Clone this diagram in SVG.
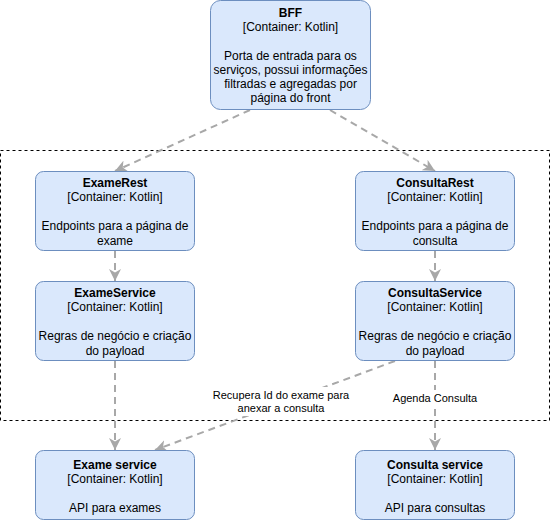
<svg xmlns="http://www.w3.org/2000/svg" width="551" height="521" viewBox="0 0 551 521">
  <style>
    .box { fill: #dae8fc; stroke: #6c8ebf; stroke-width: 1; }
    .t { font-family: "Liberation Sans", Arial, Helvetica, sans-serif; font-size: 12px; fill: #000; text-anchor: middle; }
    .b { font-weight: bold; }
    .lbl { font-family: "Liberation Sans", Arial, Helvetica, sans-serif; font-size: 11px; fill: #000; text-anchor: middle; }
    .edge { fill: none; stroke: #a8a8a8; stroke-width: 2; stroke-dasharray: 7 5; marker-end: url(#arrow); }
    .bound { fill: none; stroke: #000; stroke-width: 1; stroke-dasharray: 3 3; }
  </style>
  <defs>
    <marker id="arrow" markerUnits="userSpaceOnUse" viewBox="0 0 12 12" markerWidth="12" markerHeight="12" refX="12" refY="6" orient="auto">
      <path d="M0,0 L12,6 L0,12 L3.5,6 z" fill="#a8a8a8"/>
    </marker>
  </defs>
  <rect width="551" height="521" fill="#fff"/>

  <!-- system boundary -->
  <rect class="bound" x="0.5" y="150.5" width="549" height="270"/>

  <!-- connectors -->
  <g id="connectors">
    <path class="edge" d="M250,110 L115,171"/>
    <path class="edge" d="M330,110 L435,171"/>
    <path class="edge" d="M115,251 L115,281"/>
    <path class="edge" d="M435,251 L435,281"/>
    <path class="edge" d="M115,361 L115,450"/>
    <path class="edge" d="M435,361 L435,450"/>
    <path class="edge" d="M395,361 L155,450"/>
    <rect x="392" y="390" width="86" height="14" fill="#fff"/>
    <text class="lbl" x="435" y="401.5">Agenda Consulta</text>
    <rect x="212" y="387" width="138" height="29" fill="#fff"/>
    <text class="lbl" x="281" y="399">Recupera Id do exame para</text>
    <text class="lbl" x="281" y="412">anexar a consulta</text>
  </g>

  <g id="bff">
    <rect class="box" x="210.5" y="0.5" width="160" height="109" rx="10"/>
    <text class="t b" x="290.5" y="17">BFF</text>
    <text class="t" x="290.5" y="31.2">[Container: Kotlin]</text>
    <text class="t" x="290.5" y="59.6">Porta de entrada para os</text>
    <text class="t" x="290.5" y="73.8">serviços, possui informações</text>
    <text class="t" x="290.5" y="88">filtradas e agregadas por</text>
    <text class="t" x="290.5" y="102.2">página do front</text>
  </g>

  <g id="exame-rest">
    <rect class="box" x="35.5" y="171.5" width="159" height="79" rx="8"/>
    <text class="t b" x="115" y="187">ExameRest</text>
    <text class="t" x="115" y="201.4">[Container: Kotlin]</text>
    <text class="t" x="115" y="230.2">Endpoints para a página de</text>
    <text class="t" x="115" y="244.6">exame</text>
  </g>

  <g id="consulta-rest">
    <rect class="box" x="355.5" y="171.5" width="159" height="79" rx="8"/>
    <text class="t b" x="435" y="187">ConsultaRest</text>
    <text class="t" x="435" y="201.4">[Container: Kotlin]</text>
    <text class="t" x="435" y="230.2">Endpoints para a página de</text>
    <text class="t" x="435" y="244.6">consulta</text>
  </g>

  <g id="exame-service">
    <rect class="box" x="35.5" y="281.5" width="159" height="79" rx="8"/>
    <text class="t b" x="115" y="297">ExameService</text>
    <text class="t" x="115" y="311.4">[Container: Kotlin]</text>
    <text class="t" x="115" y="340.2">Regras de negócio e criação</text>
    <text class="t" x="115" y="354.6">do payload</text>
  </g>

  <g id="consulta-service">
    <rect class="box" x="355.5" y="281.5" width="159" height="79" rx="8"/>
    <text class="t b" x="435" y="297">ConsultaService</text>
    <text class="t" x="435" y="311.4">[Container: Kotlin]</text>
    <text class="t" x="435" y="340.2">Regras de negócio e criação</text>
    <text class="t" x="435" y="354.6">do payload</text>
  </g>

  <g id="exame-api">
    <rect class="box" x="35.5" y="450.5" width="159" height="69" rx="8"/>
    <text class="t b" x="115" y="468.5">Exame service</text>
    <text class="t" x="115" y="483">[Container: Kotlin]</text>
    <text class="t" x="115" y="511.5">API para exames</text>
  </g>

  <g id="consulta-api">
    <rect class="box" x="355.5" y="450.5" width="159" height="69" rx="8"/>
    <text class="t b" x="435" y="468.5">Consulta service</text>
    <text class="t" x="435" y="483">[Container: Kotlin]</text>
    <text class="t" x="435" y="511.5">API para consultas</text>
  </g>
</svg>
